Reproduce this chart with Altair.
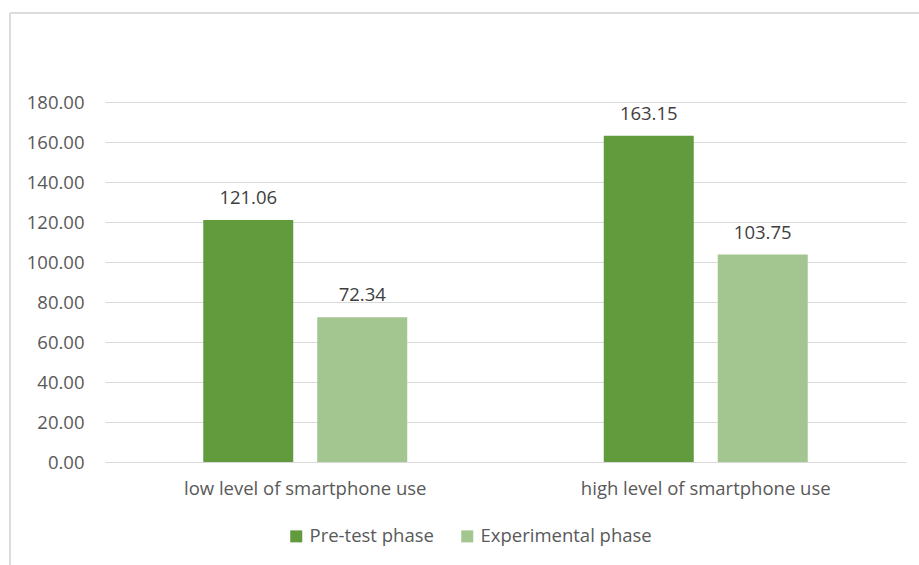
import altair as alt
import pandas as pd

categories = ["low level of  smartphone use", "high level of smartphone use"]
phases = ["Pre-test phase", "Experimental phase"]
pre_test = [121.06, 163.15]
experimental = [72.34, 103.75]
y_ticks = [0, 20, 40, 60, 80, 100, 120, 140, 160, 180]

rows = []
for i, c in enumerate(categories):
    rows.append({"cat": c, "phase": phases[0], "value": pre_test[i]})
    rows.append({"cat": c, "phase": phases[1], "value": experimental[i]})
df = pd.DataFrame(rows)

FONT = "Open Sans"
FS = 18.5
TXT = "#595959"
colors = ["#629B3E", "#A3C58F"]

x = alt.X("cat:N", sort=categories, title=None,
          scale=alt.Scale(paddingInner=0, paddingOuter=0),
          axis=alt.Axis(labelAngle=0, ticks=False, domain=False, labelPadding=17,
                        labelLimit=0, labelFontSize=FS, labelColor=TXT, labelFont=FONT))
xo = alt.XOffset("phase:N", sort=phases,
                 scale=alt.Scale(paddingInner=0.2105, paddingOuter=0.862))
y = alt.Y("value:Q", title=None,
          scale=alt.Scale(domain=[0, 180], nice=False),
          axis=alt.Axis(values=y_ticks, format=".2f", ticks=False, domain=False,
                        labelOverlap=False, labelPadding=21, labelFontSize=FS,
                        labelColor=TXT, labelFont=FONT,
                        gridColor="#D9D9D9", gridWidth=1))

base = alt.Chart(df).encode(x=x, xOffset=xo, y=y)

bars = base.mark_bar().encode(
    color=alt.Color("phase:N", sort=phases,
                    scale=alt.Scale(domain=phases, range=colors),
                    legend=alt.Legend(title=None, orient="none", direction="horizontal",
                                      legendX=182, legendY=425, symbolType="square",
                                      symbolSize=144, symbolStrokeWidth=0,
                                      labelFontSize=FS, labelColor=TXT, labelFont=FONT,
                                      labelLimit=0, columnPadding=24, labelOffset=4)),
)

labels = base.mark_text(dy=-22, fontSize=FS, color="#404040", font=FONT).encode(
    text=alt.Text("value:Q", format=".2f"),
)

border = alt.Chart(df).mark_rect(fill=None, stroke="#D9D9D9", strokeWidth=1, clip=False).encode(
    x=alt.value(-95), x2=alt.value(820), y=alt.value(-89), y2=alt.value(470)
)

chart = alt.layer(bars, labels, border).properties(
    width=801, height=360,
    autosize=alt.AutoSizeParams(type="none"),
    padding={"left": 105, "top": 102, "right": 13, "bottom": 103},
    background="white",
).configure_view(stroke=None)

chart.save("out.html", embed_options={"renderer": "svg", "actions": False})
